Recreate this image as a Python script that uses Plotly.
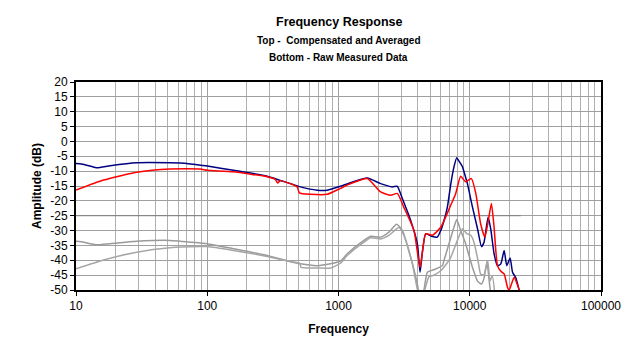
import plotly.graph_objects as go

# ---- data ----
blue_freq = [10, 11, 12.8, 14.4, 18.2, 29, 52, 70, 88.5, 100, 158, 286, 513, 687, 820, 1035,
             1236, 1656, 2093, 2570, 2806, 3064, 3548, 3990, 4180, 4340, 4616, 5190, 5660, 6010,
             6370, 6760, 7160, 7590, 7960, 8240, 8800, 9080, 9600, 10490, 11460, 12280, 12850,
             13790, 14450, 15320, 16250, 17240, 18280, 19150, 20300, 21180, 22440, 23780, 24500]
blue_db = [-7.4, -7.6, -8.3, -8.9, -8.2, -7.2, -7.2, -7.4, -8.0, -8.3, -9.7, -11.7, -15.3, -16.4, -16.4, -15.1,
           -13.9, -12.3, -14.2, -15.3, -15.1, -19.2, -26.6, -34.4, -44.0, -38.0, -31.1, -32.0, -32.2, -30.0,
           -26.6, -22.0, -14.5, -8.5, -5.5, -6.5, -8.5, -10.5, -14.2, -22.1, -29.4, -35.4, -33.9,
           -25.5, -29.4, -37.8, -41.8, -41.2, -36.7, -41.8, -39.2, -44.0, -45.9, -50.0, -52.0]

red_freq = [10, 16.2, 29, 52, 88.5, 100, 158, 286, 330, 344, 360, 484, 503, 611, 820, 1035,
            1236, 1656, 2093, 2500, 2806, 3148, 3760, 4180, 4616, 5190, 6010, 7160, 7820, 8530,
            9300, 10300, 11120, 12100, 13030, 13800, 14620, 15320, 16250, 17240, 18280, 19400,
            20000, 21780, 23400, 23800, 24500]
red_db = [-16.4, -13.0, -10.4, -9.3, -9.3, -9.7, -10.2, -11.9, -12.8, -14.0, -13.2, -15.3, -17.3, -17.8, -17.8, -15.8,
          -14.2, -12.5, -17.0, -18.1, -17.5, -22.2, -30.0, -42.4, -31.1, -31.6, -28.9, -21.5, -17.5, -11.7,
          -13.6, -12.5, -17.5, -27.7, -32.2, -27.1, -20.9, -28.8, -41.8, -43.7, -44.6, -49.1,
          -50.0, -45.7, -49.0, -50.0, -52.0]

raw1_freq = [10, 11, 12.8, 14.4, 18.2, 29, 52, 88.5, 100, 158, 286, 417, 513, 687, 869, 1035,
             1165, 1560, 1755, 2093, 2421, 2773, 3064, 3548, 4030, 4120, 4370, 4755, 5310, 6190,
             6370, 6950, 7590, 7960, 8530, 9300, 10490, 11460, 12280, 12850, 13530, 13990, 14500]
raw1_db = [-33.6, -33.8, -34.4, -34.8, -34.4, -33.6, -33.3, -34.2, -34.4, -36.1, -38.4, -40.3, -41.2, -41.8, -41.2, -40.3,
           -37.8, -33.3, -31.9, -32.2, -30.5, -27.9, -29.9, -39.0, -49.1, -52.0, -52.0, -44.0, -43.2, -41.8,
           -40.0, -34.4, -28.8, -26.3, -30.0, -34.4, -42.4, -47.0, -48.0, -46.0, -40.5, -46.0, -52.0]

raw2_freq = [10, 16.2, 29, 52, 88.5, 100, 158, 286, 417, 507, 519, 687, 869, 1035,
             1165, 1560, 1755, 2093, 2421, 2887, 3148, 3655, 4120, 4370, 4890, 5200, 6010,
             6950, 7160, 8050, 8800, 9470, 10180, 10780, 11550, 12100, 12780, 13700, 14240,
             14850, 15600]
raw2_db = [-42.9, -39.9, -37.3, -35.8, -35.4, -35.4, -36.7, -38.7, -40.3, -41.0, -42.4, -42.6, -42.6, -41.0,
           -38.4, -33.9, -32.4, -32.8, -31.6, -29.0, -31.6, -41.2, -52.0, -52.0, -45.5, -45.2, -43.5,
           -40.0, -39.0, -33.3, -29.4, -31.0, -31.6, -34.0, -40.0, -44.6, -45.0, -40.1, -47.0,
           -45.2, -52.0]

ref_freq = [10, 24500]
ref_db = [-25, -25]

y_tick_vals = [20, 15, 10, 5, 0, -5, -10, -15, -20, -25, -30, -35, -40, -45, -50]
y_tick_text = ["20", "15", "10", "5", "0", "-5", "-10", "-15", "-20", "-25", "-30", "-35", "-40", "-45", "-50"]
x_tick_vals = [10, 100, 1000, 10000, 100000]
x_tick_text = ["10", "100", "1000", "10000", "100000"]

FONT = "Liberation Sans, Arial, sans-serif"
LW = 1.5

fig = go.Figure()
fig.add_trace(go.Scatter(x=ref_freq, y=ref_db, mode="lines",
                         line=dict(color="#808080", width=1), showlegend=False, hoverinfo="skip"))
fig.add_trace(go.Scatter(x=raw1_freq, y=raw1_db, mode="lines",
                         line=dict(color="#9a9a9a", width=LW, shape="spline", smoothing=0.5), showlegend=False))
fig.add_trace(go.Scatter(x=raw2_freq, y=raw2_db, mode="lines",
                         line=dict(color="#a6a6a6", width=LW, shape="spline", smoothing=0.5), showlegend=False))
fig.add_trace(go.Scatter(x=blue_freq, y=blue_db, mode="lines",
                         line=dict(color="#000080", width=LW, shape="spline", smoothing=0.5), showlegend=False))
fig.add_trace(go.Scatter(x=red_freq, y=red_db, mode="lines",
                         line=dict(color="#ff0000", width=LW, shape="spline", smoothing=0.5), showlegend=False))

# page body adds an 8px offset; margins below compensate for it
M_L, M_R, M_T, M_B = 68, 47, 74, 74
fig.update_layout(
    width=640, height=356,
    margin=dict(l=M_L, r=M_R, t=M_T, b=M_B),
    paper_bgcolor="white", plot_bgcolor="white",
    font=dict(family=FONT, size=12, color="black"),
    showlegend=False,
    xaxis=dict(
        type="log", range=[1, 5],
        tickvals=x_tick_vals, ticktext=x_tick_text,
        ticks="outside", ticklen=4, tickcolor="black",
        showgrid=True, gridcolor="#a0a0a0", gridwidth=1,
        minor=dict(showgrid=True, gridcolor="#b0b0b0", gridwidth=1, dtick="D1", ticks=""),
        showline=True, linecolor="black", linewidth=2, mirror=True,
        zeroline=False,
        title=dict(text="<b>Frequency</b>", font=dict(size=12), standoff=12),
        tickfont=dict(size=12),
    ),
    yaxis=dict(
        range=[-50, 20],
        tickvals=y_tick_vals, ticktext=y_tick_text,
        ticks="outside", ticklen=4, tickcolor="black",
        showgrid=True, gridcolor="#a0a0a0", gridwidth=1,
        showline=True, linecolor="black", linewidth=2, mirror=True,
        zeroline=False,
        title=dict(text="<b>Amplitude (dB)</b>", font=dict(size=12), standoff=6),
        tickfont=dict(size=12),
    ),
)

plot_h = 356 - M_T - M_B
def paper_y(py):
    # py is the screen row in the photographed page (includes 8px body offset)
    return (356 - M_B - (py - 8)) / plot_h

fig.add_annotation(text="<b>Frequency Response</b>", x=0.5, xref="paper", y=paper_y(22), yref="paper",
                   xanchor="center", yanchor="middle", showarrow=False, font=dict(size=12.5))
fig.add_annotation(text="<b>Top -  Compensated and Averaged</b>", x=0.5, xref="paper", y=paper_y(40), yref="paper",
                   xanchor="center", yanchor="middle", showarrow=False, font=dict(size=10))
fig.add_annotation(text="<b>Bottom - Raw Measured Data</b>", x=0.5, xref="paper", y=paper_y(57), yref="paper",
                   xanchor="center", yanchor="middle", showarrow=False, font=dict(size=10))

fig.write_html("out.html")
